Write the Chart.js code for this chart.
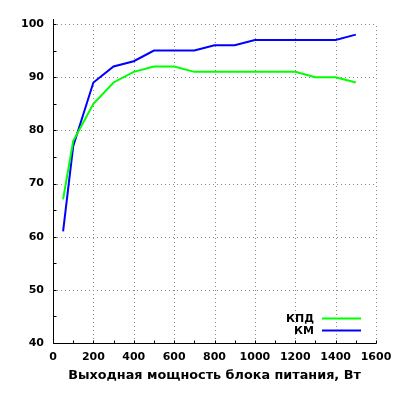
<!DOCTYPE html>
<html>
<head>
<meta charset="utf-8">
<script src="https://cdn.jsdelivr.net/npm/chart.js@4/dist/chart.umd.min.js"></script>
<style>
html,body{margin:0;padding:0;background:#fff;}
#wrap{width:400px;height:400px;}
</style>
</head>
<body>
<div id="wrap"><canvas id="c" width="400" height="400"></canvas></div>
<script>
const power = [50,100,200,300,400,500,600,700,800,900,1000,1100,1200,1300,1400,1500];
const kpd   = [67,78,85,89,91,92,92,91,91,91,91,91,91,90,90,89];
const km    = [61,77,89,92,93,95,95,95,96,96,97,97,97,97,97,98];
const xTicks = [0,200,400,600,800,1000,1200,1400,1600];
const yTicks = [40,50,60,70,80,90,100];
const seriesNames = ['КПД','КМ'];
const xTitle = 'Выходная мощность блока питания, Вт';

const FONT = '"DejaVu Sans", Verdana, sans-serif';

function pts(vals){ return power.map((p,i)=>({x:p,y:vals[i]})); }

const framePlugin = {
  id:'frame',
  beforeDatasetsDraw(chart){
    const {ctx, chartArea:a, scales:{x,y}} = chart;
    ctx.save();
    // dotted grid
    ctx.strokeStyle = '#888888';
    ctx.lineWidth = 1;
    ctx.setLineDash([1,3]);
    xTicks.forEach(v=>{
      if (v===xTicks[0]) return;
      const px = Math.round(x.getPixelForValue(v))+0.5;
      ctx.beginPath(); ctx.moveTo(px,a.bottom); ctx.lineTo(px,a.top); ctx.stroke();
    });
    yTicks.forEach(v=>{
      if (v===yTicks[0]) return;
      const py = Math.round(y.getPixelForValue(v))+0.5;
      ctx.beginPath(); ctx.moveTo(a.left,py); ctx.lineTo(a.right,py); ctx.stroke();
    });
    ctx.setLineDash([]);
    // ticks (inward)
    ctx.strokeStyle = '#000';
    const tl = 3;
    const xAll = [];
    xTicks.forEach((v,i)=>{ xAll.push(v); if(i<xTicks.length-1) xAll.push((v+xTicks[i+1])/2); });
    const yAll = [];
    yTicks.forEach((v,i)=>{ yAll.push(v); if(i<yTicks.length-1) yAll.push((v+yTicks[i+1])/2); });
    const bY = Math.round(a.bottom)+0.5;
    const lX = Math.round(a.left)+0.5;
    xAll.forEach(v=>{
      const px = Math.round(x.getPixelForValue(v))+0.5;
      ctx.beginPath(); ctx.moveTo(px,bY); ctx.lineTo(px,bY-tl); ctx.stroke();
    });
    yAll.forEach(v=>{
      const py = Math.round(y.getPixelForValue(v))+0.5;
      ctx.beginPath(); ctx.moveTo(lX,py); ctx.lineTo(lX+tl,py); ctx.stroke();
    });
    // axes
    ctx.beginPath();
    ctx.moveTo(lX, a.top-5);
    ctx.lineTo(lX, bY);
    ctx.lineTo(Math.round(a.right)+0.5, bY);
    ctx.stroke();
    ctx.restore();
  },
  afterDatasetsDraw(chart){
    const {ctx} = chart;
    ctx.save();
    ctx.font = 'bold 11px ' + FONT;
    ctx.fillStyle = '#000';
    ctx.textAlign = 'right';
    ctx.textBaseline = 'middle';
    chart.data.datasets.forEach((ds,i)=>{
      const yy = 319 + i*12;
      ctx.fillText(ds.label, 314, yy);
      ctx.strokeStyle = ds.borderColor;
      ctx.lineWidth = 2;
      ctx.beginPath(); ctx.moveTo(322, yy-0.5); ctx.lineTo(361, yy-0.5); ctx.stroke();
    });
    ctx.restore();
  }
};

new Chart(document.getElementById('c'), {
  type:'line',
  data:{
    datasets:[
      {label:seriesNames[0], data:pts(kpd), borderColor:'#00ff00', backgroundColor:'#00ff00', borderWidth:2, pointRadius:0, tension:0, fill:false},
      {label:seriesNames[1], data:pts(km), borderColor:'#0000ff', backgroundColor:'#0000ff', borderWidth:2, pointRadius:0, tension:0, fill:false}
    ]
  },
  options:{
    responsive:false,
    animation:false,
    events:[],
    layout:{padding:{top:24,right:24,left:0,bottom:0}},
    plugins:{legend:{display:false}, tooltip:{enabled:false}},
    scales:{
      x:{
        type:'linear', min:0, max:1600,
        afterBuildTicks(s){ s.ticks = xTicks.map(v=>({value:v})); },
        afterFit(s){ s.height = 57; },
        grid:{display:false, drawTicks:false},
        border:{display:false},
        ticks:{color:'#000', padding:8, maxRotation:0, autoSkip:false, callback:v=>String(v), font:{family:FONT, size:11, weight:'bold'}},
        title:{display:true, text:xTitle, color:'#000', font:{family:FONT, size:12.8, weight:'bold'}, padding:{top:0,bottom:17}}
      },
      y:{
        type:'linear', min:40, max:100,
        afterBuildTicks(s){ s.ticks = yTicks.map(v=>({value:v})); },
        afterFit(s){ s.width = 53; },
        grid:{display:false, drawTicks:false},
        border:{display:false},
        ticks:{color:'#000', padding:9, autoSkip:false, callback:v=>String(v), font:{family:FONT, size:11, weight:'bold'}}
      }
    }
  },
  plugins:[framePlugin]
});
</script>
</body>
</html>
